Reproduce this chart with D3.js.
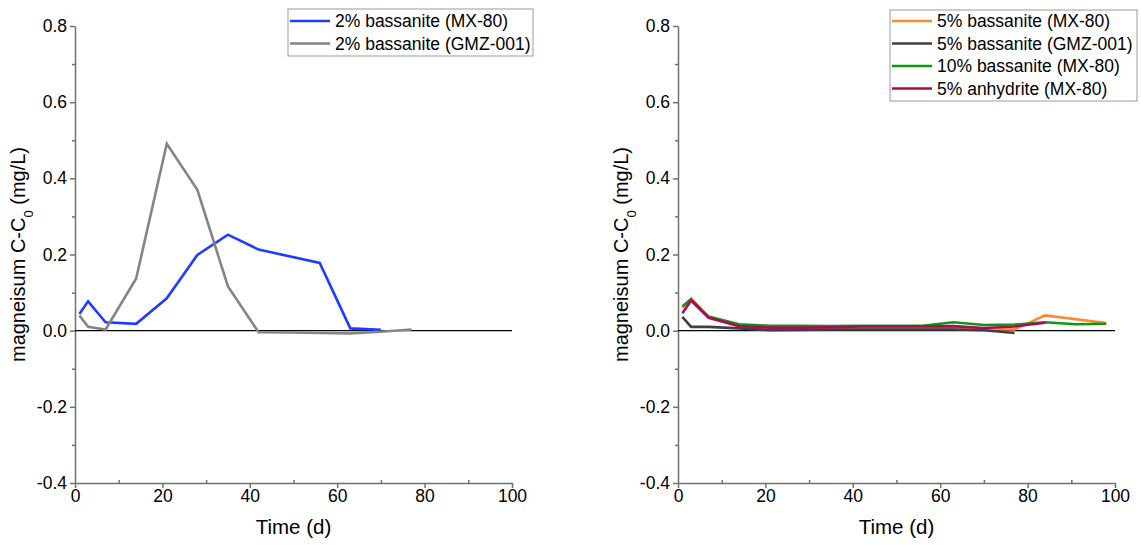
<!DOCTYPE html>
<html>
<head>
<meta charset="utf-8">
<script src="https://cdn.jsdelivr.net/npm/d3@7"></script>
<style>
  html, body { margin: 0; padding: 0; background: #fff; }
  svg { display: block; font-family: "Liberation Sans", Arial, sans-serif; }
</style>
</head>
<body>
<svg id="chart" width="1141" height="545"></svg>
<script>
// ---- Data ----
const xTicks = [0, 20, 40, 60, 80, 100];
const yTicks = [-0.4, -0.2, 0.0, 0.2, 0.4, 0.6, 0.8];

// Left panel
const days2MX = [1, 3, 7, 14, 21, 28, 35, 42, 56, 63, 70];
const mg2MX   = [0.044, 0.077, 0.022, 0.018, 0.085, 0.199, 0.252, 0.213, 0.178, 0.006, 0.002];
const days2GMZ = [1, 3, 7, 14, 21, 28, 35, 42, 49, 56, 63, 70, 77];
const mg2GMZ   = [0.040, 0.010, 0.003, 0.137, 0.491, 0.370, 0.116, -0.004, -0.005, -0.006, -0.007, -0.003, 0.003];

// Right panel
const days5MX = [1, 3, 7, 14, 21, 28, 35, 42, 49, 56, 63, 70, 77, 84, 98];
const mg5MX   = [0.060, 0.085, 0.036, 0.012, 0.006, 0.006, 0.006, 0.008, 0.007, 0.007, 0.008, 0.004, 0.003, 0.040, 0.020];
const days5GMZ = [1, 3, 7, 14, 21, 28, 35, 42, 49, 56, 63, 70, 77];
const mg5GMZ   = [0.036, 0.010, 0.010, 0.006, 0.001, 0.002, 0.003, 0.003, 0.003, 0.003, 0.003, 0.001, -0.006];
const days10MX = [1, 3, 7, 14, 21, 28, 35, 42, 49, 56, 63, 70, 77, 84, 91, 98];
const mg10MX   = [0.064, 0.082, 0.037, 0.017, 0.013, 0.013, 0.012, 0.013, 0.013, 0.013, 0.022, 0.015, 0.016, 0.022, 0.017, 0.018];
const days5Anh = [1, 3, 7, 14, 21, 28, 35, 42, 49, 56, 63, 70, 77, 84];
const mg5Anh   = [0.046, 0.079, 0.034, 0.012, 0.008, 0.008, 0.009, 0.011, 0.011, 0.011, 0.012, 0.007, 0.011, 0.021];

const leftSeries = [
  { name: "2% bassanite (MX-80)",   days: days2MX,  values: mg2MX,  color: "#1f3cff" },
  { name: "2% bassanite (GMZ-001)", days: days2GMZ, values: mg2GMZ, color: "#858585" }
];
const rightSeries = [
  { name: "5% bassanite (MX-80)",   days: days5MX,  values: mg5MX,  color: "#f98a32" },
  { name: "5% bassanite (GMZ-001)", days: days5GMZ, values: mg5GMZ, color: "#404040" },
  { name: "10% bassanite (MX-80)",  days: days10MX, values: mg10MX, color: "#119611" },
  { name: "5% anhydrite (MX-80)",   days: days5Anh, values: mg5Anh, color: "#a50c5e" }
];

// ---- Drawing ----
const svg = d3.select("#chart");
const plotTop = 26, plotBottom = 483;
const axisColor = "#707070";

function panel(x0, x1, series, legend) {
  const g = svg.append("g");
  const x = d3.scaleLinear().domain([0, 100]).range([x0, x1]);
  const y = d3.scaleLinear().domain([-0.4, 0.8]).range([plotBottom, plotTop]);

  const yMinor = d3.range(-0.3, 0.8, 0.2).map(v => +v.toFixed(1));
  const xMinor = d3.range(10, 100, 20);

  g.append("g").attr("transform", `translate(${x0},0)`)
    .call(d3.axisLeft(y).tickValues(yMinor).tickSize(3).tickSizeOuter(0).tickFormat(""))
    .call(s => s.select(".domain").remove())
    .call(s => s.selectAll("line").attr("stroke", axisColor).attr("stroke-width", 1.5));
  g.append("g").attr("transform", `translate(0,${plotBottom})`)
    .call(d3.axisBottom(x).tickValues(xMinor).tickSize(-3).tickSizeOuter(0).tickFormat(""))
    .call(s => s.select(".domain").remove())
    .call(s => s.selectAll("line").attr("stroke", axisColor).attr("stroke-width", 1.5));

  g.append("g").attr("transform", `translate(${x0},0)`)
    .call(d3.axisLeft(y).tickValues(yTicks).tickSize(5).tickSizeOuter(0).tickPadding(3)
      .tickFormat(d => d.toFixed(1)))
    .call(s => s.select(".domain").attr("stroke", axisColor).attr("stroke-width", 1.5))
    .call(s => s.selectAll("line").attr("stroke", axisColor).attr("stroke-width", 1.5))
    .call(s => s.selectAll("text").attr("fill", "#000").style("font-size", "17.5px")
      .style("font-family", '"Liberation Sans", Arial, sans-serif'));
  g.append("g").attr("transform", `translate(0,${plotBottom})`)
    .call(d3.axisBottom(x).tickValues(xTicks).tickSize(5).tickSizeOuter(0).tickPadding(2))
    .call(s => s.select(".domain").attr("stroke", axisColor).attr("stroke-width", 1.5))
    .call(s => s.selectAll("line").attr("stroke", axisColor).attr("stroke-width", 1.5))
    .call(s => s.selectAll("text").attr("fill", "#000").style("font-size", "17.5px")
      .style("font-family", '"Liberation Sans", Arial, sans-serif'));

  g.append("line")
    .attr("x1", x(0)).attr("x2", x(100)).attr("y1", y(0)).attr("y2", y(0))
    .attr("stroke", "#000").attr("stroke-width", 1.2);

  g.append("text")
    .attr("x", (x0 + x1) / 2).attr("y", 534)
    .attr("text-anchor", "middle").style("font-size", "20.5px")
    .text("Time (d)");
  const yt = g.append("text")
    .attr("transform", `translate(${x0 - 50},${(plotTop + plotBottom) / 2}) rotate(-90)`)
    .attr("text-anchor", "middle").style("font-size", "20px");
  yt.append("tspan").text("magneisum C-C");
  yt.append("tspan").attr("baseline-shift", "sub").style("font-size", "13px").text("0");
  yt.append("tspan").text(" (mg/L)");

  const line = d3.line().x(d => x(d[0])).y(d => y(d[1]));
  series.forEach(s => {
    const pts = s.days.map((d, i) => [d, s.values[i]]);
    g.append("path").datum(pts)
      .attr("d", line).attr("fill", "none")
      .attr("stroke", s.color).attr("stroke-width", 2.6)
      .attr("stroke-linejoin", "miter");
  });

  const lg = g.append("g");
  lg.append("rect")
    .attr("x", legend.x).attr("y", legend.y)
    .attr("width", legend.w).attr("height", legend.h)
    .attr("fill", "#fff").attr("stroke", "#9a9a9a").attr("stroke-width", 1);
  series.forEach((s, i) => {
    const ry = legend.y + legend.first + i * legend.step;
    lg.append("line")
      .attr("x1", legend.x + 2).attr("x2", legend.x + 42)
      .attr("y1", ry).attr("y2", ry)
      .attr("stroke", s.color).attr("stroke-width", 2.6);
    lg.append("text")
      .attr("x", legend.x + 47).attr("y", ry)
      .attr("dy", "0.35em").style("font-size", "17.5px")
      .text(s.name);
  });
}

panel(75, 512, leftSeries, { x: 288, y: 9, w: 245, h: 47, first: 12, step: 22.5 });
panel(678, 1115, rightSeries, { x: 890, y: 10, w: 247, h: 91, first: 11, step: 22.5 });
</script>
</body>
</html>
